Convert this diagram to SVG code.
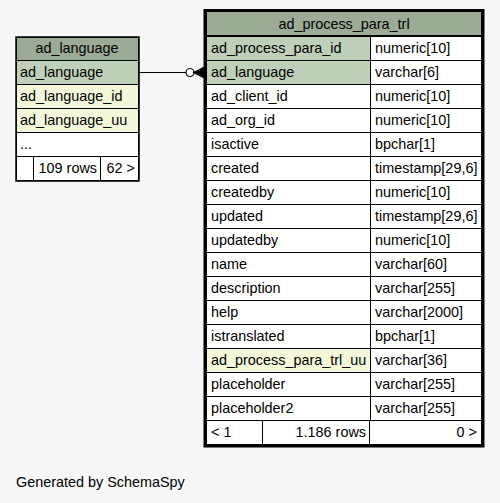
<svg xmlns="http://www.w3.org/2000/svg" width="500" height="503" viewBox="0 0 500 503">
<style>
text{font-family:"Liberation Sans",Arial,sans-serif;font-size:14.4px;fill:#000}
.c{stroke:#000;stroke-width:1}
.h{fill:#9bab96}
.pk{fill:#bed1b8}
.fk{fill:#f4f7da}
.w{fill:#ffffff}
.m{text-anchor:middle}
.e{text-anchor:end}
</style>
<rect x="0" y="0" width="500" height="503" fill="#f7f7f7"/>
<g id="ad_language">
<rect x="16" y="37" width="123" height="144" fill="none" stroke="#000" stroke-width="1.5"/>
<rect class="c h" x="16.5" y="37.5" width="122" height="23"/>
<text class="m" x="77" y="53">ad_language</text>
<rect class="c pk" x="16.5" y="60.5" width="122" height="24"/>
<text x="20" y="77">ad_language</text>
<rect class="c fk" x="16.5" y="84.5" width="122" height="24"/>
<text x="20" y="101">ad_language_id</text>
<rect class="c fk" x="16.5" y="108.5" width="122" height="24"/>
<text x="20" y="125">ad_language_uu</text>
<rect class="c w" x="16.5" y="132.5" width="122" height="24"/>
<text x="20" y="149">...</text>
<rect class="c w" x="16.5" y="156.5" width="17" height="24"/>
<rect class="c w" x="33.5" y="156.5" width="67" height="24"/>
<text class="e" x="97" y="173">109 rows</text>
<rect class="c w" x="100.5" y="156.5" width="38" height="24"/>
<text class="e" x="135" y="173">62 &gt;</text>
</g>
<g id="ad_process_para_trl">
<rect class="c h" x="206.5" y="11.5" width="275" height="24"/>
<text class="m" x="344" y="29">ad_process_para_trl</text>
<rect class="c pk" x="206.5" y="36.5" width="164" height="24"/><rect class="c w" x="370.5" y="36.5" width="111" height="24"/>
<text x="211" y="53">ad_process_para_id</text><text x="375" y="53">numeric[10]</text>
<rect class="c pk" x="206.5" y="60.5" width="164" height="24"/><rect class="c w" x="370.5" y="60.5" width="111" height="24"/>
<text x="211" y="77">ad_language</text><text x="375" y="77">varchar[6]</text>
<rect class="c w" x="206.5" y="84.5" width="164" height="24"/><rect class="c w" x="370.5" y="84.5" width="111" height="24"/>
<text x="211" y="101">ad_client_id</text><text x="375" y="101">numeric[10]</text>
<rect class="c w" x="206.5" y="108.5" width="164" height="24"/><rect class="c w" x="370.5" y="108.5" width="111" height="24"/>
<text x="211" y="125">ad_org_id</text><text x="375" y="125">numeric[10]</text>
<rect class="c w" x="206.5" y="132.5" width="164" height="24"/><rect class="c w" x="370.5" y="132.5" width="111" height="24"/>
<text x="211" y="149">isactive</text><text x="375" y="149">bpchar[1]</text>
<rect class="c w" x="206.5" y="156.5" width="164" height="24"/><rect class="c w" x="370.5" y="156.5" width="111" height="24"/>
<text x="211" y="173">created</text><text x="375" y="173">timestamp[29,6]</text>
<rect class="c w" x="206.5" y="180.5" width="164" height="24"/><rect class="c w" x="370.5" y="180.5" width="111" height="24"/>
<text x="211" y="197">createdby</text><text x="375" y="197">numeric[10]</text>
<rect class="c w" x="206.5" y="204.5" width="164" height="24"/><rect class="c w" x="370.5" y="204.5" width="111" height="24"/>
<text x="211" y="221">updated</text><text x="375" y="221">timestamp[29,6]</text>
<rect class="c w" x="206.5" y="228.5" width="164" height="24"/><rect class="c w" x="370.5" y="228.5" width="111" height="24"/>
<text x="211" y="245">updatedby</text><text x="375" y="245">numeric[10]</text>
<rect class="c w" x="206.5" y="252.5" width="164" height="24"/><rect class="c w" x="370.5" y="252.5" width="111" height="24"/>
<text x="211" y="269">name</text><text x="375" y="269">varchar[60]</text>
<rect class="c w" x="206.5" y="276.5" width="164" height="24"/><rect class="c w" x="370.5" y="276.5" width="111" height="24"/>
<text x="211" y="293">description</text><text x="375" y="293">varchar[255]</text>
<rect class="c w" x="206.5" y="300.5" width="164" height="24"/><rect class="c w" x="370.5" y="300.5" width="111" height="24"/>
<text x="211" y="317">help</text><text x="375" y="317">varchar[2000]</text>
<rect class="c w" x="206.5" y="324.5" width="164" height="24"/><rect class="c w" x="370.5" y="324.5" width="111" height="24"/>
<text x="211" y="341">istranslated</text><text x="375" y="341">bpchar[1]</text>
<rect class="c fk" x="206.5" y="348.5" width="164" height="24"/><rect class="c w" x="370.5" y="348.5" width="111" height="24"/>
<text x="211" y="365">ad_process_para_trl_uu</text><text x="375" y="365">varchar[36]</text>
<rect class="c w" x="206.5" y="372.5" width="164" height="24"/><rect class="c w" x="370.5" y="372.5" width="111" height="24"/>
<text x="211" y="389">placeholder</text><text x="375" y="389">varchar[255]</text>
<rect class="c w" x="206.5" y="396.5" width="164" height="24"/><rect class="c w" x="370.5" y="396.5" width="111" height="24"/>
<text x="211" y="413">placeholder2</text><text x="375" y="413">varchar[255]</text>
<rect class="c w" x="206.5" y="420.5" width="56" height="24"/>
<text x="211" y="437">&lt; 1</text>
<rect class="c w" x="262.5" y="420.5" width="107" height="24"/>
<text class="e" x="366" y="437">1.186 rows</text>
<rect class="c w" x="369.5" y="420.5" width="112" height="24"/>
<text class="e" x="477" y="437">0 &gt;</text>
<rect x="205" y="10.5" width="278" height="435.5" fill="none" stroke="#000" stroke-width="3"/>
</g>
<g id="connectors">
<path d="M139,72.5 H186" fill="none" stroke="#000" stroke-width="1"/>
<circle cx="190" cy="72.5" r="4" fill="#ffffff" stroke="#000" stroke-width="1.2"/>
<path d="M204,67.5 L194,72.5 L204,77.5 M194,72.5 H204" fill="none" stroke="#000" stroke-width="1.5"/>
<path d="M204,68 L196,72.5 L204,77 Z" fill="#000"/>
</g>
<text x="16" y="487">Generated by SchemaSpy</text>
</svg>
